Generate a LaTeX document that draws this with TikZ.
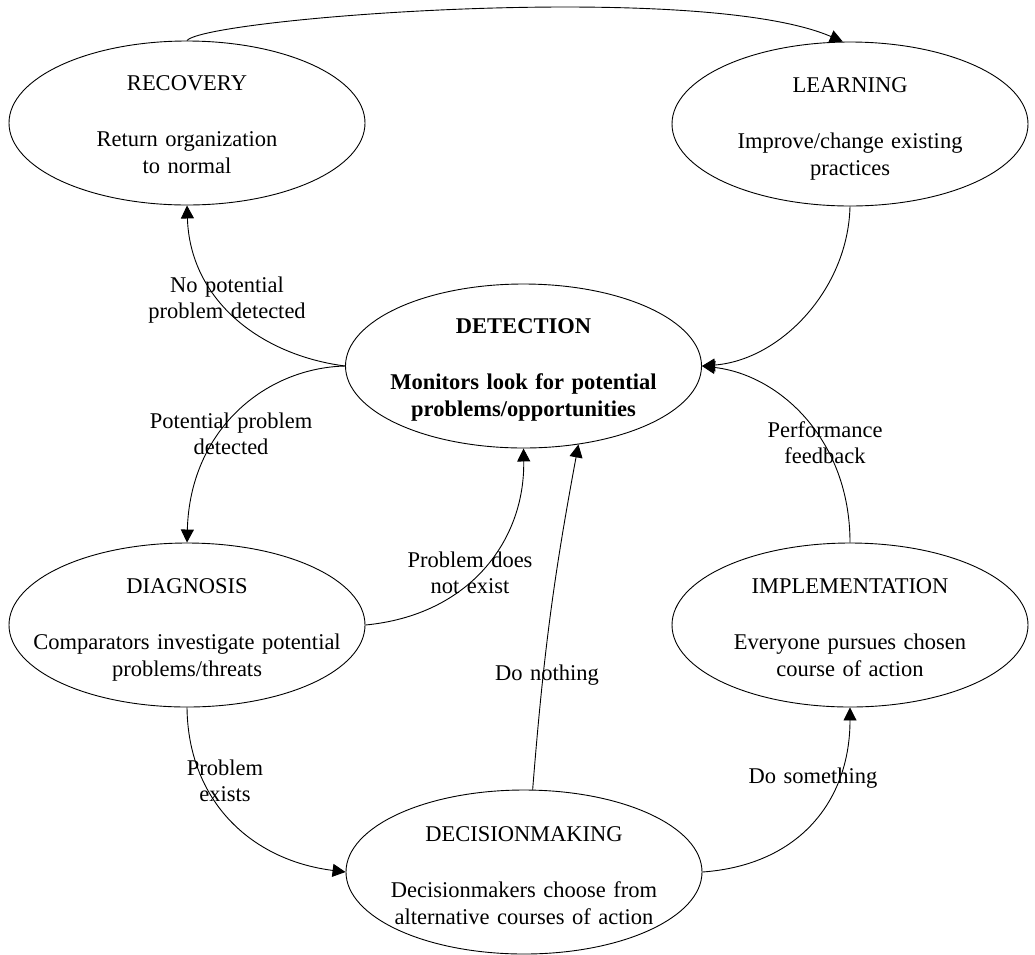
\documentclass[tikz,border=0pt]{standalone}
\usepackage{fontspec}
\setmainfont{Liberation Serif}
\usetikzlibrary{arrows.meta,calc,shapes.geometric}
\begin{document}
\begin{tikzpicture}[x=1pt,y=-1pt,
  state/.style={draw, ellipse, line width=0.9pt, minimum width=356pt, minimum height=164pt, inner sep=0pt},
  stxt/.style={anchor=base, text width=350pt, align=center, font=\fontsize{22.5}{27.5}\selectfont, inner sep=0pt},
  lbl/.style={anchor=base, text width=220pt, align=center, font=\fontsize{22.5}{26.5}\selectfont, inner sep=0pt},
  conn/.style={line width=0.9pt, -{Triangle[length=13pt,width=13pt]}},
]
\useasboundingbox (0,0) rectangle (1035,954);

\node[state] (rec) at (187,123) {};
\node[state] (lea) at (850,124) {};
\node[state] (det) at (523.5,366) {};
\node[state] (dia) at (187,625) {};
\node[state] (imp) at (850,625) {};
\node[state] (dec) at (524,872) {};

\node[stxt] (recT) at ($(rec.center)+(0,-33)$) {RECOVERY\\[28.5pt]Return organization\\to normal};
\node[stxt] (leaT) at ($(lea.center)+(0,-32)$) {LEARNING\\[28.5pt]Improve/change existing\\practices};
\node[stxt,font=\fontsize{22.5}{27.5}\selectfont\bfseries] (detT) at ($(det.center)+(0,-33)$) {DETECTION\\[28.5pt]Monitors look for potential\\problems/opportunities};
\node[stxt] (diaT) at ($(dia.center)+(0,-32)$) {DIAGNOSIS\\[28.5pt]Comparators investigate potential\\problems/threats};
\node[stxt] (impT) at ($(imp.center)+(0,-32)$) {IMPLEMENTATION\\[28.5pt]Everyone pursues chosen\\course of action};
\node[stxt] (decT) at ($(dec.center)+(0,-31)$) {DECISIONMAKING\\[28.5pt]Decisionmakers choose from\\alternative courses of action};

\draw[conn] (rec.north) .. controls (205,18) and (700,-20) .. (lea.95);
\draw[conn] (det.west) .. controls (260,355) and (190,300) .. (rec.south);
\draw[conn] (det.west) .. controls (265,368) and (190,430) .. (dia.north);
\draw[conn] (dia.east) .. controls (470,615) and (525,540) .. (det.south);
\draw[conn] (dec.84) to[bend left=3] (det.-55);
\draw[conn] (dia.south) .. controls (188,800) and (250,860) .. (dec.west);
\draw[conn] (dec.east) .. controls (800,865) and (850,800) .. (imp.south);
\draw[conn] (imp.north) .. controls (850,440) and (780,375) .. (det.east);
\draw[conn] (lea.south) .. controls (848,290) and (780,360) .. (det.east);

\node[lbl] (l1) at (227,292) {No potential\\problem detected};
\node[lbl] (l2) at (231,428) {Potential problem\\detected};
\node[lbl] (l3) at (470,567) {Problem does\\not exist};
\node[lbl] (l4) at (547,680) {Do nothing};
\node[lbl] (l5) at (225,775) {Problem\\exists};
\node[lbl] (l6) at (813,783) {Do something};
\node[lbl] (l7) at (825,437) {Performance\\feedback};
\end{tikzpicture}
\end{document}
